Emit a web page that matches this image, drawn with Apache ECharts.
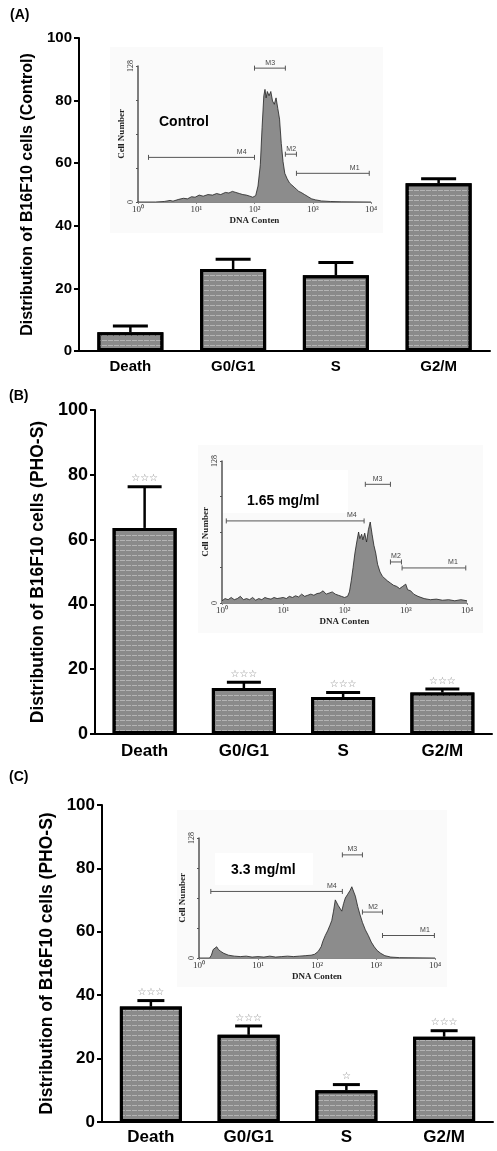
<!DOCTYPE html>
<html>
<head>
<meta charset="utf-8">
<script src="https://cdn.jsdelivr.net/npm/echarts@6/dist/echarts.min.js"></script>
<style>
  html, body { margin: 0; padding: 0; background: #fff; }
  #chart { width: 497px; height: 1151px; }
</style>
</head>
<body>
<div id="chart"></div>
<script>
// cell cycle distribution (%), panel A = control, B = 1.65 mg/ml, C = 3.3 mg/ml
const categories = ['Death', 'G0/G1', 'S', 'G2/M'];
const meanA = [6.0, 26.2, 24.2, 53.6];
const errA = [2.0, 3.1, 4.1, 1.4];
const starsA = ['', '', '', ''];
const meanB = [63.6, 14.2, 11.4, 12.8];
const errB = [12.7, 1.8, 1.4, 1.1];
const starsB = ['☆☆☆', '☆☆☆', '☆☆☆', '☆☆☆'];
const meanC = [36.4, 27.5, 10.0, 26.9];
const errC = [1.9, 2.8, 1.8, 1.9];
const starsC = ['☆☆☆', '☆☆☆', '☆', '☆☆☆'];
const decadeLabels = ['10⁰', '10¹', '10²', '10³', '10⁴'];

// flow histograms: [log10(DNA content), cell number]
const histA = [[0,0],[0.3,0],[0.45,0.5],[0.55,1.5],[0.6,0.8],[0.7,2.5],[0.78,3.5],[0.85,3],[0.92,5],[0.98,4.5],
  [1.05,6.5],[1.12,5.5],[1.2,7],[1.28,6.5],[1.35,8],[1.42,7],[1.5,9],[1.56,8.5],[1.62,10],[1.68,9],[1.74,8],
  [1.8,7],[1.86,6.5],[1.92,5.5],[1.97,4.5],[2.02,6],[2.06,15],[2.1,35],[2.13,70],[2.16,100],[2.18,106],[2.2,98],
  [2.22,104],[2.25,100],[2.28,104],[2.31,95],[2.34,92],[2.37,98],[2.4,88],[2.43,78],[2.46,55],[2.49,38],[2.52,27],
  [2.56,22],[2.6,18],[2.64,16],[2.68,14],[2.72,12],[2.76,10],[2.8,9],[2.86,7],[2.92,5],[2.98,3],[3.05,2],[3.15,1],
  [3.3,0.5],[3.5,0.2],[4,0]];
const histB = [[0,2],[0.05,4],[0.1,3],[0.15,5],[0.2,3],[0.25,4],[0.3,6],[0.35,3],[0.4,4],[0.45,3],[0.5,5],[0.55,2.5],
  [0.6,4],[0.65,3],[0.7,5],[0.75,4],[0.8,3.5],[0.85,5],[0.9,4],[0.95,4.5],[1.0,5],[1.05,4],[1.1,6],[1.15,5],[1.2,6.5],
  [1.25,5.5],[1.3,8],[1.35,6],[1.4,7],[1.45,8],[1.5,7],[1.55,8.5],[1.6,9],[1.65,11],[1.7,8],[1.75,9],[1.8,10],[1.85,8],
  [1.9,7],[1.95,6],[2.0,5],[2.05,6],[2.08,10],[2.11,20],[2.14,32],[2.17,45],[2.2,55],[2.23,64],[2.25,58],[2.28,62],
  [2.3,57],[2.33,63],[2.36,55],[2.39,66],[2.42,73],[2.45,62],[2.48,52],[2.51,45],[2.54,35],[2.58,28],[2.62,24],
  [2.66,22],[2.7,20],[2.75,18],[2.8,16],[2.85,15],[2.9,13],[2.95,15],[3.0,17],[3.03,12],[3.08,11],[3.13,8],[3.2,6],
  [3.3,4],[3.4,3],[3.5,3.5],[3.6,2.5],[3.7,3],[3.8,2],[3.9,3],[4.0,2]];
const histC = [[0,0],[0.18,0],[0.21,3],[0.24,9],[0.27,11],[0.3,12],[0.33,9],[0.37,7],[0.42,5],[0.5,3],[0.6,2],[0.7,1.5],
  [0.8,2],[0.9,1],[1.0,1.5],[1.1,1],[1.2,2],[1.3,1],[1.4,1.5],[1.5,2],[1.6,1.5],[1.7,2],[1.8,2.5],[1.9,3],[1.96,4],
  [2.02,7],[2.07,12],[2.1,18],[2.14,24],[2.18,29],[2.22,35],[2.25,40],[2.28,50],[2.31,62],[2.33,64],[2.36,56],
  [2.39,54],[2.42,50],[2.45,58],[2.48,64],[2.52,68],[2.56,72],[2.59,76],[2.62,74],[2.65,66],[2.69,55],[2.73,46],
  [2.77,38],[2.82,30],[2.87,24],[2.92,17],[2.97,12],[3.02,8],[3.08,5],[3.15,2.5],[3.25,1],[3.4,0.4],[4,0]];

// gates: [name, from, to, level, label position] in histogram units
const gatesA = [['M4', 0.18, 2.0, 42, 1.78], ['M3', 2.0, 2.53, 126, 2.27], ['M2', 2.53, 2.72, 45, 2.63], ['M1', 2.72, 3.97, 27, 3.72]];
const gatesB = [['M4', 0.07, 2.32, 74, 2.12], ['M3', 2.34, 2.75, 107, 2.54], ['M2', 2.75, 2.93, 37, 2.84], ['M1', 2.94, 3.98, 31.6, 3.77]];
const gatesC = [['M4', 0.2, 2.43, 71, 2.25], ['M3', 2.43, 2.77, 110, 2.6], ['M2', 2.77, 3.11, 49, 2.95], ['M1', 3.11, 3.99, 24, 3.83]];

const sans = 'Arial, "Liberation Sans", sans-serif';
const serif = '"Times New Roman", "Liberation Serif", serif';

const chart = echarts.init(document.getElementById('chart'), null, { renderer: 'canvas' });

function errorBars(means, errs, stars, capW) {
  return function (params, api) {
    const i = params.dataIndex;
    const base = api.coord([i, means[i]]);
    const top = api.coord([i, means[i] + errs[i]]);
    return {
      type: 'group',
      children: [
        { type: 'line', shape: { x1: base[0], y1: base[1], x2: top[0], y2: top[1] }, style: { stroke: '#000', lineWidth: 2.5 } },
        { type: 'line', shape: { x1: top[0] - capW / 2, y1: top[1], x2: top[0] + capW / 2, y2: top[1] }, style: { stroke: '#000', lineWidth: 3 } },
        { type: 'text', x: top[0], y: top[1] - 3, style: { text: stars[i], fill: '#8c8c8c', fontSize: 10, align: 'center', verticalAlign: 'bottom', fontFamily: 'DejaVu Sans' } }
      ]
    };
  };
}

function gateMarks(gates) {
  return function (params, api) {
    const g = gates[params.dataIndex];
    const a = api.coord([g[1], g[3]]);
    const b = api.coord([g[2], g[3]]);
    const t = api.coord([g[4], g[3]]);
    const s = { stroke: '#555', lineWidth: 1 };
    return {
      type: 'group',
      children: [
        { type: 'line', shape: { x1: a[0], y1: a[1], x2: b[0], y2: b[1] }, style: s },
        { type: 'line', shape: { x1: a[0], y1: a[1] - 2.5, x2: a[0], y2: a[1] + 2.5 }, style: s },
        { type: 'line', shape: { x1: b[0], y1: b[1] - 2.5, x2: b[0], y2: b[1] + 2.5 }, style: s },
        { type: 'text', x: t[0], y: t[1] - 2, style: { text: g[0], fill: '#444', fontSize: 7, align: 'center', verticalAlign: 'bottom', fontFamily: sans } }
      ]
    };
  };
}

function mainX(idx, fs, margin) {
  return {
    gridIndex: idx, type: 'category', data: categories,
    axisLine: { lineStyle: { color: '#000', width: 2 } },
    axisTick: { alignWithLabel: true, length: 4, lineStyle: { color: '#000', width: 1.5 } },
    axisLabel: { color: '#000', fontWeight: 'bold', fontSize: fs, fontFamily: sans, margin: margin }
  };
}

function mainY(idx, name, fs, nfs, gap) {
  return {
    gridIndex: idx, type: 'value', min: 0, max: 100, interval: 20,
    axisLine: { show: true, lineStyle: { color: '#000', width: 2 } },
    axisTick: { show: true, length: 5, lineStyle: { color: '#000', width: 2 } },
    splitLine: { show: false },
    axisLabel: { color: '#000', fontWeight: 'bold', fontSize: fs, fontFamily: sans, margin: 7 },
    name: name, nameLocation: 'middle', nameGap: gap,
    nameTextStyle: { color: '#000', fontWeight: 'bold', fontSize: nfs, fontFamily: sans }
  };
}

function histX(idx) {
  return {
    gridIndex: idx, type: 'value', min: 0, max: 4, interval: 1,
    axisLine: { lineStyle: { color: '#888', width: 1 } },
    axisTick: { length: 2, lineStyle: { color: '#888' } },
    splitLine: { show: false },
    axisLabel: { formatter: v => decadeLabels[v], color: '#333', fontSize: 9, fontFamily: serif, margin: 3 },
    name: 'DNA Conten', nameLocation: 'middle', nameGap: 14,
    nameTextStyle: { color: '#222', fontSize: 9, fontFamily: serif, fontWeight: 'bold' }
  };
}

function histY(idx) {
  return {
    gridIndex: idx, type: 'value', min: 0, max: 128, interval: 32,
    axisLine: { show: true, lineStyle: { color: '#555', width: 1.5 } },
    axisTick: { show: true, length: 2, lineStyle: { color: '#555' } },
    splitLine: { show: false },
    axisLabel: { formatter: v => (v === 0 || v === 128) ? String(v) : '', rotate: 90, color: '#333', fontSize: 8, fontFamily: serif, margin: 3 },
    name: 'Cell Number', nameLocation: 'middle', nameGap: 12,
    nameTextStyle: { color: '#222', fontSize: 9, fontFamily: serif, fontWeight: 'bold' }
  };
}

const barStyle = {
  color: '#8a8a8a', borderColor: '#000', borderWidth: 3,
  decal: { symbol: 'rect', symbolSize: 1, color: 'rgba(215,215,215,0.55)', dashArrayX: [[5, 1]], dashArrayY: [1, 4] }
};

function barSeries(idx, means, width) {
  return { type: 'bar', xAxisIndex: idx, yAxisIndex: idx, data: means, barWidth: width, itemStyle: barStyle, z: 3, animation: false };
}

function errSeries(idx, means, errs, stars, capW) {
  return {
    type: 'custom', xAxisIndex: idx, yAxisIndex: idx, z: 2, animation: false,
    renderItem: errorBars(means, errs, stars, capW),
    data: means.map((m, i) => [i, m + errs[i]])
  };
}

function histSeries(idx, data) {
  return {
    type: 'line', xAxisIndex: idx, yAxisIndex: idx, data: data, showSymbol: false, animation: false,
    lineStyle: { color: '#222', width: 0.8 }, areaStyle: { color: '#8c8c8c', opacity: 1 }, z: 2
  };
}

function gateSeries(idx, gates) {
  return {
    type: 'custom', xAxisIndex: idx, yAxisIndex: idx, z: 4, animation: false,
    renderItem: gateMarks(gates),
    data: gates.map(g => [g[1], g[3]])
  };
}

chart.setOption({
  backgroundColor: '#fff',
  animation: false,
  title: [
    { text: '(A)', left: 5, top: 3, textStyle: { fontSize: 14, fontWeight: 'bold', fontFamily: sans, color: '#000' } },
    { text: '(B)', left: 4, top: 384, textStyle: { fontSize: 14, fontWeight: 'bold', fontFamily: sans, color: '#000' } },
    { text: '(C)', left: 4, top: 765, textStyle: { fontSize: 14, fontWeight: 'bold', fontFamily: sans, color: '#000' } },
    { text: 'Control', left: 154, top: 110, textStyle: { fontSize: 14, fontWeight: 'bold', fontFamily: sans, color: '#000' } },
    { text: '1.65 mg/ml', left: 242, top: 489, textStyle: { fontSize: 14, fontWeight: 'bold', fontFamily: sans, color: '#000' } },
    { text: '3.3 mg/ml', left: 226, top: 858, textStyle: { fontSize: 14, fontWeight: 'bold', fontFamily: sans, color: '#000' } }
  ],
  graphic: [
    { type: 'rect', z: -10, shape: { x: 110, y: 47, width: 273, height: 186 }, style: { fill: '#fafafa' } },
    { type: 'rect', z: -10, shape: { x: 198, y: 445, width: 285, height: 188 }, style: { fill: '#fafafa' } },
    { type: 'rect', z: -9, shape: { x: 223, y: 470, width: 125, height: 43 }, style: { fill: '#fff' } },
    { type: 'rect', z: -10, shape: { x: 177, y: 810, width: 270, height: 177 }, style: { fill: '#fafafa' } },
    { type: 'rect', z: -9, shape: { x: 215, y: 853, width: 98, height: 32 }, style: { fill: '#fff' } }
  ],
  grid: [
    { left: 79, top: 38, width: 411, height: 313 },
    { left: 95, top: 410, width: 397, height: 324 },
    { left: 102, top: 805, width: 391, height: 317 },
    { left: 138, top: 66, width: 233, height: 136 },
    { left: 222, top: 461, width: 245, height: 142 },
    { left: 199, top: 838, width: 236, height: 120 }
  ],
  xAxis: [mainX(0, 15, 8), mainX(1, 17, 9), mainX(2, 17, 7), histX(3), histX(4), histX(5)],
  yAxis: [
    mainY(0, 'Distribution of B16F10 cells (Control)', 15, 16, 38),
    mainY(1, 'Distribution of B16F10 cells (PHO-S)', 18, 17.5, 38),
    mainY(2, 'Distribution of B16F10 cells (PHO-S)', 17, 17.5, 38),
    histY(3), histY(4), histY(5)
  ],
  series: [
    errSeries(0, meanA, errA, starsA, 35),
    barSeries(0, meanA, 66),
    errSeries(1, meanB, errB, starsB, 34),
    barSeries(1, meanB, 64),
    errSeries(2, meanC, errC, starsC, 27),
    barSeries(2, meanC, 62),
    histSeries(3, histA), gateSeries(3, gatesA),
    histSeries(4, histB), gateSeries(4, gatesB),
    histSeries(5, histC), gateSeries(5, gatesC)
  ]
});
</script>
</body>
</html>
